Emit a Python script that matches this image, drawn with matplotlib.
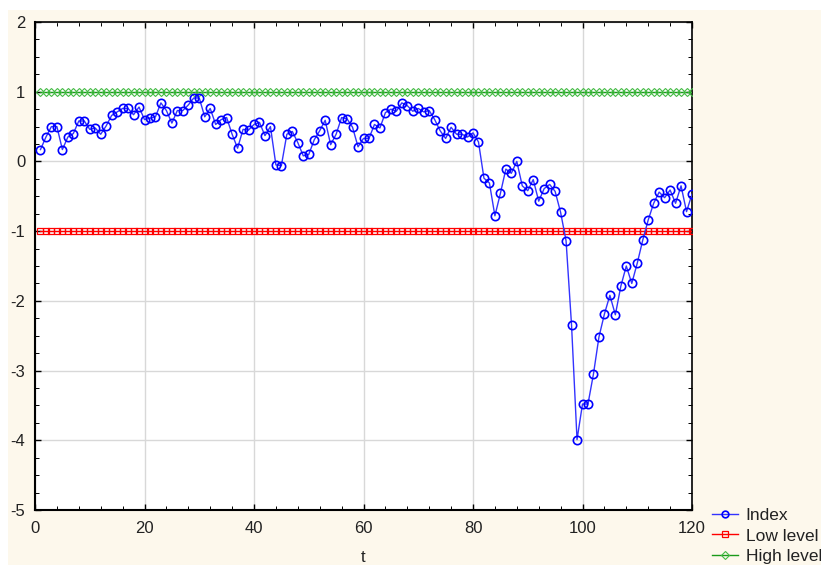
import numpy as np
import matplotlib.pyplot as plt
from matplotlib.patches import Rectangle
from matplotlib.ticker import MultipleLocator

plt.rcParams['font.family'] = ['Liberation Sans', 'DejaVu Sans']
plt.rcParams['axes.unicode_minus'] = False

t = np.arange(1, 121)
index_values = [
    0.17, 0.35, 0.50, 0.50, 0.17, 0.35, 0.40, 0.58, 0.58, 0.46,
    0.48, 0.39, 0.51, 0.66, 0.71, 0.76, 0.76, 0.67, 0.78, 0.60,
    0.62, 0.64, 0.84, 0.73, 0.55, 0.73, 0.73, 0.81, 0.91, 0.91,
    0.64, 0.76, 0.53, 0.60, 0.63, 0.39, 0.19, 0.46, 0.45, 0.53,
    0.56, 0.37, 0.50, -0.05, -0.06, 0.39, 0.43, 0.27, 0.08, 0.10,
    0.31, 0.44, 0.59, 0.24, 0.39, 0.63, 0.61, 0.49, 0.21, 0.33,
    0.33, 0.53, 0.48, 0.70, 0.75, 0.72, 0.84, 0.80, 0.72, 0.76,
    0.71, 0.73, 0.60, 0.44, 0.33, 0.49, 0.39, 0.39, 0.35, 0.41,
    0.28, -0.24, -0.31, -0.78, -0.46, -0.11, -0.17, 0.00, -0.35, -0.42,
    -0.26, -0.57, -0.39, -0.33, -0.43, -0.73, -1.14, -2.35, -3.99, -3.48,
    -3.48, -3.05, -2.52, -2.19, -1.92, -2.20, -1.79, -1.50, -1.75, -1.46,
    -1.13, -0.84, -0.60, -0.44, -0.52, -0.41, -0.60, -0.35, -0.72, -0.47,
]
low_level = [-1.0] * len(t)
high_level = [1.0] * len(t)

fig = plt.figure(figsize=(8.21, 5.65), dpi=100)
fig.patch.set_facecolor('#fdf8ec')
# thin white margin along the top and left edges
fig.add_artist(Rectangle((0, 0), 8 / 821, 1, transform=fig.transFigure,
                         facecolor='white', edgecolor='none', zorder=-5))
fig.add_artist(Rectangle((0, 1 - 10 / 565), 1, 10 / 565, transform=fig.transFigure,
                         facecolor='white', edgecolor='none', zorder=-5))

ax = fig.add_axes([35 / 821, 55 / 565, 657 / 821, 488 / 565])
ax.set_facecolor('white')

ax.plot(t, high_level, color='#1a9a1a', linewidth=1, marker='D', markersize=4.5,
        markerfacecolor='none', markeredgecolor='#44bb44', markeredgewidth=0.8,
        label='High level', zorder=3)
ax.plot(t, low_level, color='red', linewidth=1, marker='s', markersize=5,
        markerfacecolor='none', markeredgecolor='red', markeredgewidth=0.9,
        label='Low level', zorder=3)
ax.plot(t, index_values, color='#3333ff', linewidth=1, marker='o', markersize=6,
        markerfacecolor='none', markeredgecolor='blue', markeredgewidth=1.2,
        label='Index', zorder=4)

ax.set_xlim(0, 120)
ax.set_ylim(-5, 2)
ax.xaxis.set_major_locator(MultipleLocator(20))
ax.xaxis.set_minor_locator(MultipleLocator(4))
ax.yaxis.set_major_locator(MultipleLocator(1))
ax.yaxis.set_minor_locator(MultipleLocator(0.25))
ax.grid(True, which='major', color='#d8d8d8', linewidth=1)
ax.set_axisbelow(True)
ax.tick_params(which='both', direction='in', top=True, right=True,
               labelsize=12, labelcolor='#222222')
ax.tick_params(which='major', length=4, width=1)
ax.tick_params(which='minor', length=3, width=0.7)
ax.tick_params(axis='x', pad=8)
ax.tick_params(axis='y', pad=7)
for side in ['left', 'bottom']:
    ax.spines[side].set_linewidth(1.5)
for side in ['right', 'top']:
    ax.spines[side].set_linewidth(1.2)

ax.set_xlabel('t', fontsize=12, labelpad=10, color='#222222')

handles, labels = ax.get_legend_handles_labels()
order = [2, 1, 0]
fig.legend([handles[i] for i in order], [labels[i] for i in order],
           loc='upper left', bbox_to_anchor=(712 / 821, 1 - 508 / 565),
           frameon=False, fontsize=12.5, handlelength=1.5, handletextpad=0.45,
           labelspacing=0.3, borderaxespad=0, borderpad=0, markerscale=0.8,
           labelcolor='#222222')

fig.savefig('out.png', dpi=100)
